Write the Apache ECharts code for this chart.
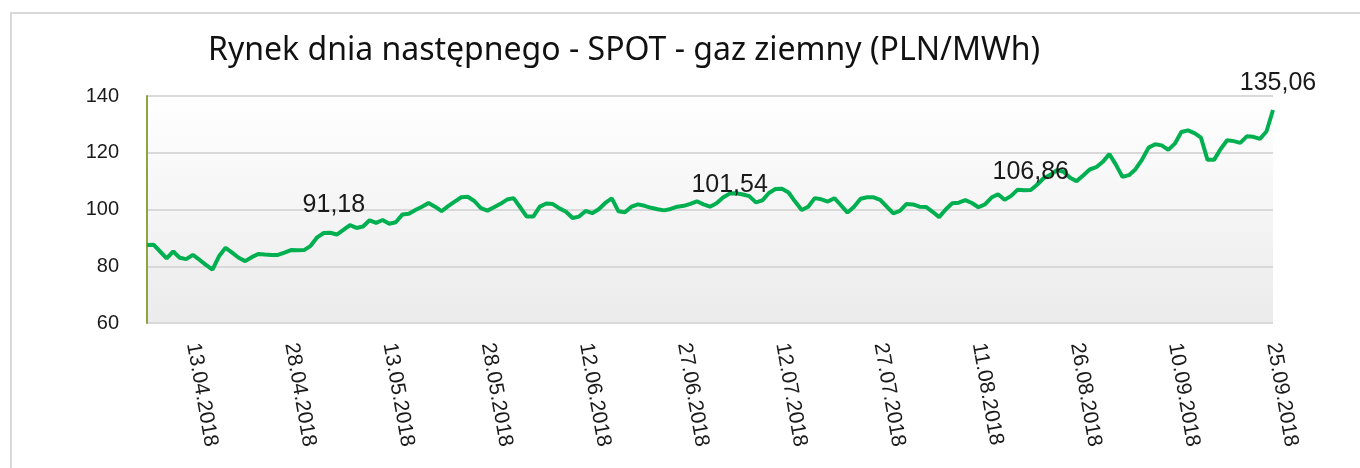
<!DOCTYPE html>
<html>
<head>
<meta charset="utf-8">
<script src="https://cdn.jsdelivr.net/npm/echarts@6/dist/echarts.min.js"></script>
<style>
  html, body { margin: 0; padding: 0; background: #fff; }
  #frame {
    position: absolute; left: 10px; top: 12px; width: 1400px; height: 500px;
    border: 2px solid #d9d9d9; box-sizing: border-box;
  }
  #main { position: absolute; left: 0; top: 0; width: 1360px; height: 468px; }
</style>
</head>
<body>
<div id="frame"></div>
<div id="main"></div>
<script>
// daily prices from 06.04.2018 to 25.09.2018
var prices = [
  87.5, 87.6, 85.2, 82.8, 85.2, 83.0, 82.5, 84.0, 82.3, 80.5,
  78.8, 83.5, 86.5, 84.8, 83.0, 81.8, 83.2, 84.3, 84.1, 84.0,
  84.0, 84.8, 85.7, 85.6, 85.7, 87.2, 90.2, 91.7, 91.8, 91.18,
  92.8, 94.5, 93.5, 94.0, 96.2, 95.3, 96.3, 95.0, 95.5, 98.2,
  98.5, 99.8, 101.0, 102.3, 101.0, 99.4, 101.2, 102.8, 104.3, 104.5,
  103.0, 100.5, 99.6, 100.8, 102.0, 103.5, 104.0, 100.8, 97.5, 97.5,
  101.0, 102.1, 101.9, 100.4, 99.2, 97.0, 97.5, 99.5, 98.7, 100.1,
  102.3, 103.9, 99.4, 99.0, 101.0, 101.8, 101.3, 100.6, 100.1, 99.7,
  100.2, 101.0, 101.3, 102.0, 102.9, 101.8, 101.0, 102.2, 104.2, 105.6,
  105.7, 105.3, 104.7, 102.5, 103.2, 105.8, 107.2, 107.3, 106.0, 102.8,
  99.8, 101.0, 104.0, 103.6, 102.8, 104.0, 101.5, 98.9, 101.0, 103.8,
  104.3, 104.3, 103.4, 101.0, 98.6, 99.5, 101.9, 101.8, 101.0, 100.9,
  99.2, 97.3, 100.0, 102.2, 102.4, 103.3, 102.3, 100.8, 101.8, 104.2,
  105.4, 103.4, 104.8, 107.0, 106.8, 106.86, 108.8, 111.1, 112.2, 113.9,
  113.3, 111.2, 110.0, 112.0, 114.1, 114.9, 116.8, 119.5, 115.8, 111.5,
  112.1, 114.2, 117.6, 121.8, 123.0, 122.6, 121.0, 123.2, 127.3, 127.9,
  126.9, 125.3, 117.5, 117.5, 121.3, 124.4, 124.1, 123.5, 125.8, 125.6,
  124.9, 127.5, 135.06
];
var startDate = [2018, 3, 6];
var labelIdx = [29, 89, 135, 172];
var labelText = ["91,18", "101,54", "106,86", "135,06"];
var labelOffset = [[-3, -17], [0, 4], [0, -5], [5, -14]];
var yTicks = [60, 80, 100, 120, 140];

var dates = [];
for (var i = 0; i < prices.length; i++) {
  var d = new Date(startDate[0], startDate[1], startDate[2] + i);
  var dd = ("0" + d.getDate()).slice(-2);
  var mm = ("0" + (d.getMonth() + 1)).slice(-2);
  dates.push(dd + "." + mm + "." + d.getFullYear());
}

var seriesData = prices.map(function(v, i) {
  var k = labelIdx.indexOf(i);
  if (k < 0) return v;
  return {
    value: v,
    label: {
      show: true,
      position: "top",
      distance: 0,
      offset: labelOffset[k],
      formatter: labelText[k],
      fontFamily: "Liberation Sans",
      fontSize: 25,
      color: "#1a1a1a"
    }
  };
});

var myChart = echarts.init(document.getElementById("main"));
var option = {
  animation: false,
  title: {
    text: "Rynek dnia następnego - SPOT - gaz ziemny (PLN/MWh)",
    left: 203,
    top: 30,
    textStyle: {
      fontFamily: "Noto Sans",
      fontWeight: "normal",
      fontSize: 32,
      color: "#111"
    }
  },
  grid: {
    left: 147,
    right: 87,
    top: 96,
    bottom: 145,
    show: true,
    borderWidth: 0,
    backgroundColor: new echarts.graphic.LinearGradient(0, 0, 0, 1, [
      { offset: 0, color: "#ffffff" },
      { offset: 1, color: "#ebebeb" }
    ])
  },
  xAxis: {
    type: "category",
    data: dates,
    boundaryGap: false,
    axisLine: { show: false },
    axisTick: { show: false },
    axisLabel: {
      interval: function(idx) { return idx >= 7 && (idx - 7) % 15 === 0; },
      rotate: -80,
      margin: 20,
      fontFamily: "Liberation Sans",
      fontSize: 21,
      color: "#1a1a1a"
    },
    splitLine: { show: false }
  },
  yAxis: {
    type: "value",
    min: yTicks[0],
    max: yTicks[yTicks.length - 1],
    interval: 20,
    axisLine: { show: true, lineStyle: { color: "#8ea53f", width: 2 } },
    axisTick: { show: false },
    axisLabel: {
      margin: 28,
      fontFamily: "Liberation Sans",
      fontSize: 20,
      color: "#1a1a1a"
    },
    splitLine: { lineStyle: { color: "#d9d9d9", width: 2 } }
  },
  series: [
    {
      type: "line",
      data: seriesData,
      symbol: "circle",
      symbolSize: 0,
      showSymbol: true,
      showAllSymbol: true,
      lineStyle: { color: "#00b050", width: 4 },
      itemStyle: { color: "#00b050" }
    }
  ]
};
myChart.setOption(option);
</script>
</body>
</html>
